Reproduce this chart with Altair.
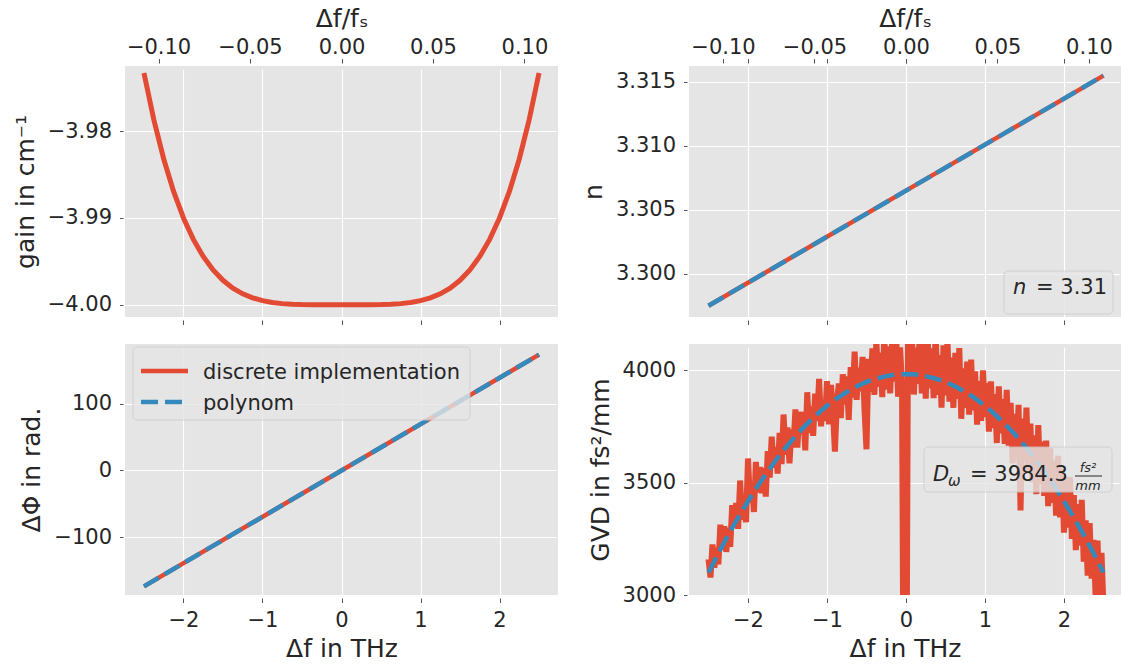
import altair as alt
import numpy as np
import pandas as pd

RED = "#E24A33"
BLUE = "#348ABD"
BG = "#E5E5E5"
TXT = "#262626"
TICK = "#555555"
FONT = "DejaVu Sans"
W_L, W_R, H = 433, 432, 251
LW = 4.5
DASH = [17, 7]

# ---------------- data ----------------
x_ticks = [-2, -1, 0, 1, 2]
top_ticks = [-0.10, -0.05, 0.0, 0.05, 0.10]

gain_x = list(np.round(np.linspace(-2.5, 2.5, 41), 4))
gain_v = [-3.97330, -3.97869, -3.98321, -3.98694, -3.99000, -3.99247, -3.99444,
          -3.99599, -3.99718, -3.99808, -3.99874, -3.99920, -3.99953, -3.99974,
          -3.99987, -3.99994, -3.99998, -3.99999, -4.00000, -4.00000, -4.00000,
          -4.00000, -4.00000, -3.99999, -3.99998, -3.99994, -3.99987, -3.99974,
          -3.99953, -3.99920, -3.99874, -3.99808, -3.99718, -3.99599, -3.99444,
          -3.99247, -3.99000, -3.98694, -3.98321, -3.97869, -3.97330]

n_x = [-2.5, -1.25, 0.0, 1.25, 2.5]
n_discrete = [3.2975, 3.3020, 3.3065, 3.3110, 3.3155]
n_poly = [3.2975, 3.3020, 3.3065, 3.3110, 3.3155]

phi_x = [-2.5, -1.25, 0.0, 1.25, 2.5]
phi_discrete = [-174, -87, 0, 87, 174]
phi_poly = [-174, -87, 0, 87, 174]

gvd_x = list(np.round(np.linspace(-2.5, 2.5, 201), 4))
gvd_discrete = [
    3160, 3078, 3225, 3122, 3210, 3136, 3313, 3200, 3306, 3192,
    3298, 3214, 3400, 3305, 3410, 3295, 3510, 3335, 3450, 3324,
    3608, 3412, 3496, 3370, 3593, 3457, 3570, 3453, 3566, 3438,
    3641, 3523, 3705, 3567, 3659, 3541, 3722, 3583, 3804, 3625,
    3746, 3586, 3737, 3657, 3827, 3657, 3816, 3716, 3815, 3644,
    3903, 3722, 3840, 3709, 3897, 3775, 3963, 3751, 3868, 3775,
    3953, 3760, 3936, 3823, 3639, 3856, 3942, 3788, 3983, 3849,
    3974, 3780, 4015, 3880, 4084, 3869, 4013, 3907, 4061, 3825,
    3649, 4052, 3905, 4098, 3891, 4134, 3927, 4079, 3881, 4153,
    3915, 4107, 3898, 4130, 3951, 4172, 3883, 4103, 3934, 2000,
    2000, 4134, 3924, 4163, 3893, 4102, 3941, 4180, 3898, 4117,
    3875, 4143, 3921, 4099, 3877, 4174, 3891, 4068, 3835, 4112,
    3889, 4135, 3861, 4057, 3833, 4079, 3874, 4100, 3785, 4010,
    3834, 4039, 3803, 4048, 3822, 3996, 3759, 3953, 3776, 4000,
    3793, 3945, 3728, 3951, 3743, 3895, 3677, 3929, 3720, 3872,
    3673, 3914, 3665, 3856, 3586, 3807, 3607, 3847, 3377, 3786,
    3596, 3835, 3554, 3763, 3502, 3711, 3449, 3757, 3495, 3683,
    3441, 3688, 3396, 3653, 3410, 3597, 3353, 3620, 3346, 3562,
    3278, 3524, 3300, 3525, 3250, 3445, 3200, 3405, 3220, 3424,
    3148, 3332, 3086, 3320, 3073, 3246, 3000, 3242, 2975, 3188,
    2950]
gvd_poly_x = list(np.round(np.linspace(-2.5, 2.5, 41), 4))
gvd_poly = [3100, 3186, 3268, 3345, 3418, 3487, 3551, 3611, 3666, 3717, 3763,
            3805, 3843, 3876, 3904, 3929, 3949, 3964, 3975, 3982, 3984, 3982,
            3975, 3964, 3949, 3929, 3904, 3876, 3843, 3805, 3763, 3717, 3666,
            3611, 3551, 3487, 3418, 3345, 3268, 3186, 3100]

# ---------------- helpers ----------------
DOM_L = [-2.74, 2.74]
DOM_R = [-2.747, 2.722]
TOP_L = [-0.11834, 0.11834]
TOP_R = [-0.11858, 0.11749]
one = pd.DataFrame({"a": [0]})


def xenc(domain, labels):
    if labels:
        ax = alt.Axis(values=x_ticks, format="d", grid=True, title="Δf in THz")
    else:
        ax = alt.Axis(values=x_ticks, labels=False, grid=True, title=None)
    return alt.X("x:Q", scale=alt.Scale(domain=domain, nice=False, zero=False), axis=ax)


def yenc(domain, title, values, fmt):
    return alt.Y("y:Q", scale=alt.Scale(domain=domain, nice=False, zero=False),
                 axis=alt.Axis(values=values, format=fmt, grid=True, title=title))


def top_axis(domain):
    return alt.Chart(pd.DataFrame({"xs": top_ticks})).mark_point(opacity=0).encode(
        x=alt.X("xs:Q", scale=alt.Scale(domain=domain, nice=False, zero=False),
                axis=alt.Axis(orient="top", values=top_ticks, format=".2f",
                              grid=False, title="Δf/fₛ", labelPadding=1,
                              titlePadding=5)))


def line(xs, ys, color, dash=None, clip=False, width=LW):
    kw = dict(color=color, strokeWidth=width, clip=clip)
    if dash:
        kw["strokeDash"] = dash
    return alt.Chart(pd.DataFrame({"x": xs, "y": ys})).mark_line(**kw)


def box(x1, x2, y1, y2):
    return alt.Chart(one).mark_rect(fill=BG, opacity=0.8, stroke="#CCCCCC",
                                    strokeWidth=1, cornerRadius=4).encode(
        x=alt.value(x1), x2=alt.value(x2), y=alt.value(y1), y2=alt.value(y2))


def txt(s, x, y, size=21, italic=False, align="left"):
    kw = dict(font=FONT, fontSize=size, color=TXT, align=align, baseline="alphabetic")
    if italic:
        kw["fontStyle"] = "italic"
    return alt.Chart(one).mark_text(**kw).encode(
        x=alt.value(x), y=alt.value(y), text=alt.value(s))


# ---------------- panels ----------------
GAIN_DOM = [-4.00141, -3.9725]
tl_line = line(gain_x, gain_v, RED, width=5).encode(
    x=xenc(DOM_L, False), y=yenc(GAIN_DOM, "gain in cm⁻¹", [-4.0, -3.99, -3.98], ".2f"))
TL = alt.layer(tl_line, top_axis(TOP_L)).resolve_scale(x="independent").properties(
    width=W_L, height=H)

N_DOM = [3.29662, 3.31625]
tr_x = xenc(DOM_R, False)
tr_y = yenc(N_DOM, "n", [3.300, 3.305, 3.310, 3.315], ".3f")
TR = alt.layer(
    line(n_x, n_discrete, RED).encode(x=tr_x, y=tr_y),
    line(n_x, n_poly, BLUE, DASH).encode(x=tr_x, y=tr_y),
    box(315, 424, 205, 248),
    txt("n", 324, 228, italic=True),
    txt("= 3.31", 347, 228),
    top_axis(TOP_R),
).resolve_scale(x="independent").properties(width=W_R, height=H)

PHI_DOM = [-187, 190]
bl_x = xenc(DOM_L, True)
bl_y = yenc(PHI_DOM, "ΔΦ in rad.", [-100, 0, 100], "d")
BL = alt.layer(
    line(phi_x, phi_discrete, RED).encode(x=bl_x, y=bl_y),
    line(phi_x, phi_poly, BLUE, DASH).encode(x=bl_x, y=bl_y),
    box(8, 345, 3, 76),
    alt.Chart(one).mark_rule(color=RED, strokeWidth=LW).encode(
        x=alt.value(16), x2=alt.value(63), y=alt.value(27)),
    alt.Chart(one).mark_rule(color=BLUE, strokeWidth=LW, strokeDash=DASH).encode(
        x=alt.value(16), x2=alt.value(63), y=alt.value(58)),
    txt("discrete implementation", 78, 35),
    txt("polynom", 78, 66),
).properties(width=W_L, height=H)

GVD_DOM = [3000, 4118]
br_x = xenc(DOM_R, True)
br_y = yenc(GVD_DOM, "GVD in fs²/mm", [3000, 3500, 4000], "d")
BR = alt.layer(
    line(gvd_x, gvd_discrete, RED, clip=True, width=6).encode(x=br_x, y=br_y),
    line(gvd_poly_x, gvd_poly, BLUE, DASH, clip=True).encode(x=br_x, y=br_y),
    box(235, 423, 103, 148),
    txt("D", 244, 137, italic=True),
    txt("ω", 259, 142, size=15, italic=True),
    txt("= 3984.3", 281, 137),
    txt("fs²", 399, 128, size=13, italic=True, align="center"),
    alt.Chart(one).mark_rule(color=TXT, strokeWidth=1).encode(
        x=alt.value(386), x2=alt.value(413), y=alt.value(132)),
    txt("mm", 399, 146, size=13, italic=True, align="center"),
).properties(width=W_R, height=H)

chart = alt.concat(TL, TR, BL, BR, columns=2, spacing={"row": 27, "column": 131},
                   bounds="flush").properties(
    padding={"left": 13, "top": 6, "right": 0, "bottom": 0},
    background="white",
).configure_view(fill=BG, stroke=None).configure_axis(
    domain=False, tickColor=TICK, tickWidth=1, gridColor="white", gridWidth=1.1,
    labelFont=FONT, labelFontSize=21, labelColor=TXT, titleFont=FONT,
    titleFontSize=25, titleFontWeight="normal", titleColor=TXT, labelOverlap=False,
).configure_axisX(offset=3, tickSize=4.5, labelPadding=7, titlePadding=6
).configure_axisY(offset=2, tickSize=3.5, labelPadding=8, titlePadding=9)

chart.save("out.html", embed_options={"renderer": "svg", "actions": False})
